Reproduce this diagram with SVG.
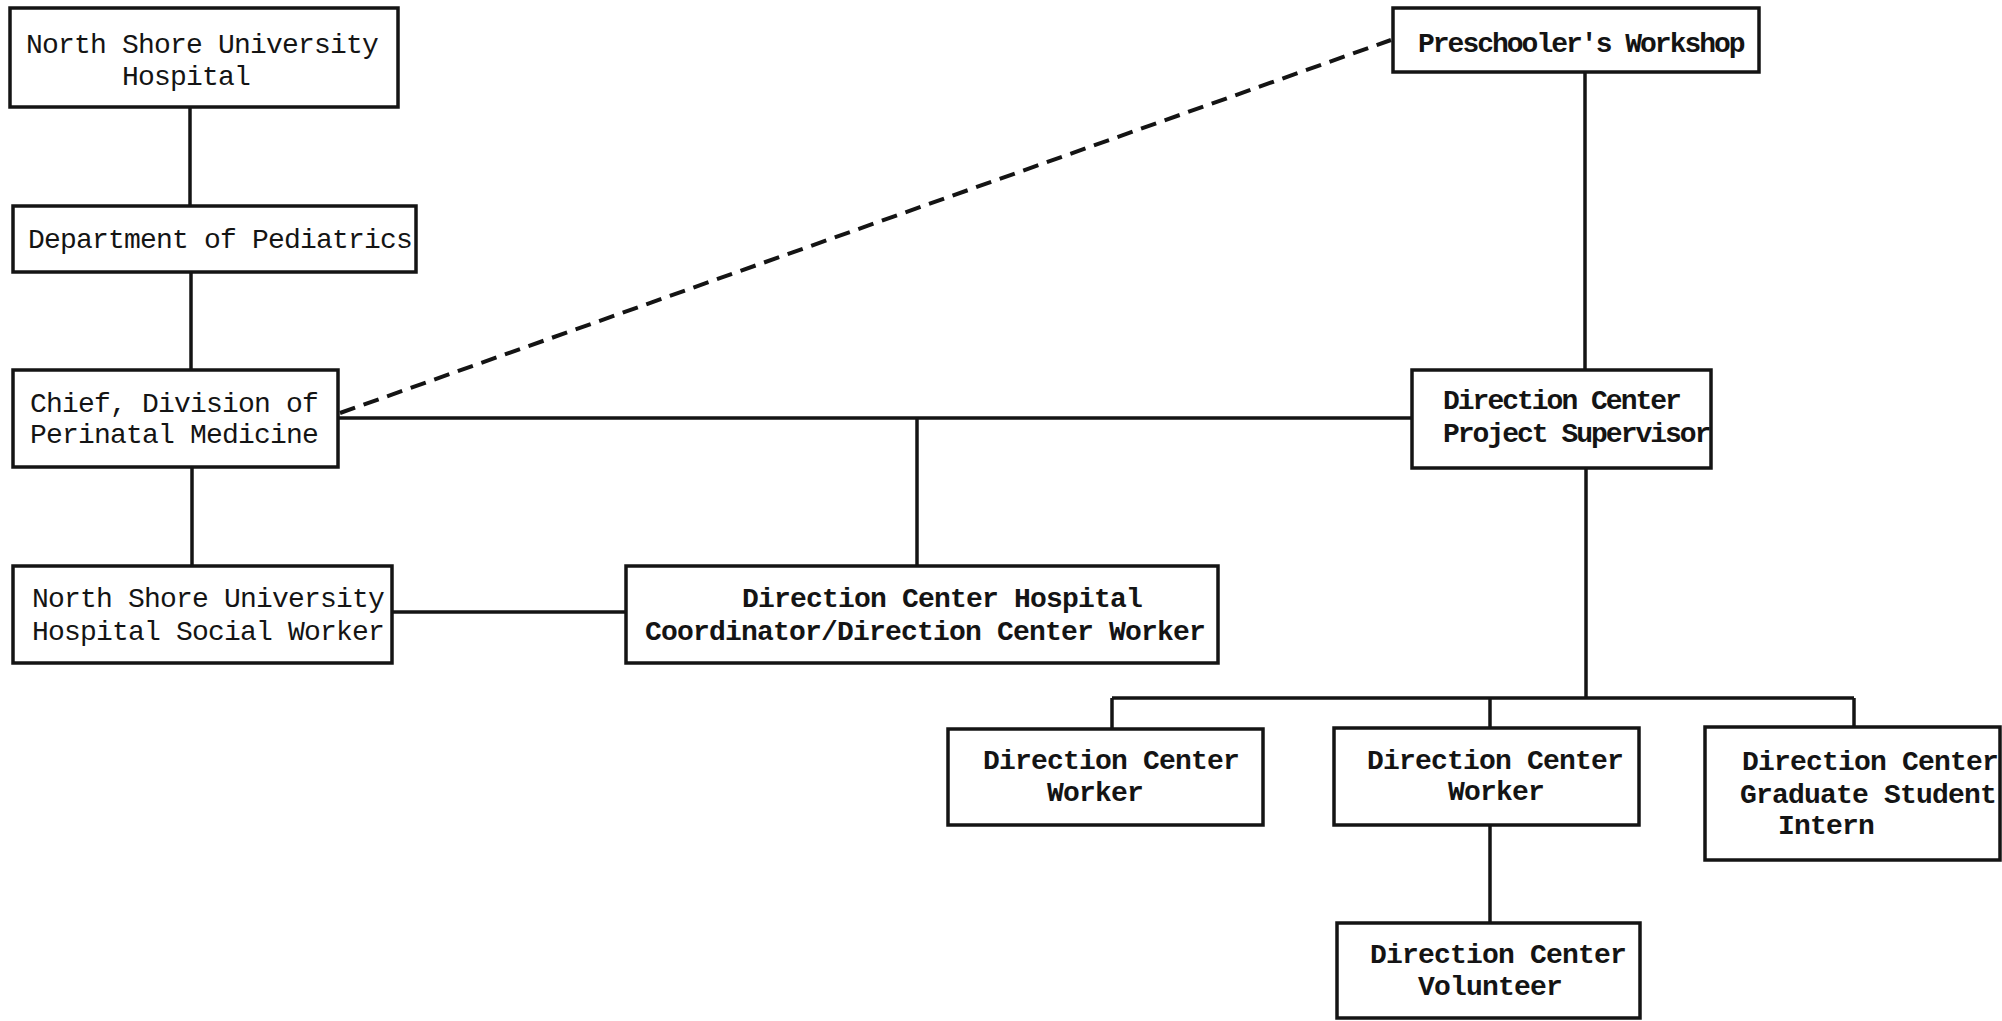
<svg xmlns="http://www.w3.org/2000/svg" width="2002" height="1021" viewBox="0 0 2002 1021">
<style>
.box{fill:#fff;stroke:#141414;stroke-width:3.5}
.t{font-family:"Liberation Mono","DejaVu Sans Mono",monospace;font-size:28px;letter-spacing:-0.8px;fill:#141414}
.b{font-weight:bold}
.n{letter-spacing:-2px}
.c{stroke:#141414;stroke-width:3.5;fill:none}
.d{stroke:#141414;stroke-width:4;fill:none;stroke-dasharray:16 9}
</style>
<rect width="2002" height="1021" fill="#fff"/>
<g id="connectors">
<line class="c" x1="190" y1="107" x2="190" y2="206"/>
<line class="c" x1="191" y1="272" x2="191" y2="370"/>
<line class="c" x1="192" y1="467" x2="192" y2="566"/>
<line class="c" x1="392" y1="612" x2="626" y2="612"/>
<line class="c" x1="338" y1="418" x2="1412" y2="418"/>
<line class="c" x1="917" y1="418" x2="917" y2="566"/>
<line class="d" x1="340" y1="413" x2="1391" y2="40"/>
<line class="c" x1="1585" y1="72" x2="1585" y2="370"/>
<line class="c" x1="1586" y1="468" x2="1586" y2="698"/>
<line class="c" x1="1112" y1="698" x2="1854" y2="698"/>
<line class="c" x1="1112" y1="698" x2="1112" y2="729"/>
<line class="c" x1="1490" y1="698" x2="1490" y2="728"/>
<line class="c" x1="1854" y1="698" x2="1854" y2="727"/>
<line class="c" x1="1490" y1="825" x2="1490" y2="923"/>
</g>
<g id="n1">
<rect class="box" x="10" y="8" width="388" height="99"/>
<text class="t" x="26" y="53">North Shore University</text>
<text class="t" x="122" y="85">Hospital</text>
</g>
<g id="n2">
<rect class="box" x="13" y="206" width="403" height="66"/>
<text class="t" x="28" y="248">Department of Pediatrics</text>
</g>
<g id="n3">
<rect class="box" x="13" y="370" width="325" height="97"/>
<text class="t" x="30" y="412">Chief, Division of</text>
<text class="t" x="30" y="443">Perinatal Medicine</text>
</g>
<g id="n4">
<rect class="box" x="13" y="566" width="379" height="97"/>
<text class="t" x="32" y="607">North Shore University</text>
<text class="t" x="32" y="640">Hospital Social Worker</text>
</g>
<g id="n5">
<rect class="box" x="626" y="566" width="592" height="97"/>
<text class="t b" x="742" y="607">Direction Center Hospital</text>
<text class="t b" x="645" y="640">Coordinator/Direction Center Worker</text>
</g>
<g id="n6">
<rect class="box" x="1393" y="8" width="366" height="64"/>
<text class="t b n" x="1418" y="52">Preschooler's Workshop</text>
</g>
<g id="n7">
<rect class="box" x="1412" y="370" width="299" height="98"/>
<text class="t b n" x="1443" y="409">Direction Center</text>
<text class="t b n" x="1443" y="442">Project Supervisor</text>
</g>
<g id="n8">
<rect class="box" x="948" y="729" width="315" height="96"/>
<text class="t b" x="983" y="769">Direction Center</text>
<text class="t b" x="1047" y="801">Worker</text>
</g>
<g id="n9">
<rect class="box" x="1334" y="728" width="305" height="97"/>
<text class="t b" x="1367" y="769">Direction Center</text>
<text class="t b" x="1448" y="800">Worker</text>
</g>
<g id="n10">
<rect class="box" x="1705" y="727" width="295" height="133"/>
<text class="t b" x="1742" y="770">Direction Center</text>
<text class="t b" x="1740" y="803">Graduate Student</text>
<text class="t b" x="1778" y="834">Intern</text>
</g>
<g id="n11">
<rect class="box" x="1337" y="923" width="303" height="95"/>
<text class="t b" x="1370" y="963">Direction Center</text>
<text class="t b" x="1418" y="995">Volunteer</text>
</g>
</svg>
